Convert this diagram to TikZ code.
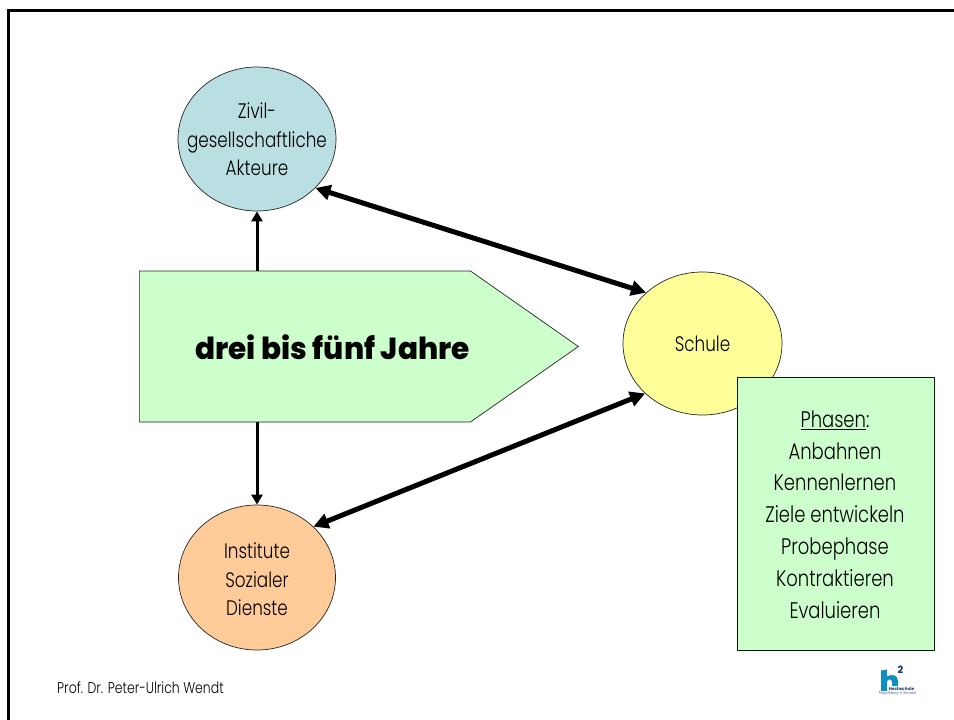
\documentclass[tikz,border=0pt]{standalone}
\usepackage{fontspec}
\setmainfont[FakeStretch=0.8]{Poppins Light}
\newfontfamily\boldf[FakeStretch=0.97]{Poppins ExtraBold}
\newfontfamily\smallbold{Poppins}
\newfontfamily\footf{Lato}
\usetikzlibrary{shapes.geometric,shapes.symbols,arrows.meta}
\tikzset{
 circ/.style={ellipse,draw=black!85,line width=0.7pt,inner sep=0pt,inner xsep=-30pt,align=center,font=\fontsize{21}{28.6}\selectfont,text=black},
 lab/.style={inner sep=0pt,align=center,font=\fontsize{21}{28.6}\selectfont},
 conn/.style={draw=black,line width=3pt,-{Triangle[length=10pt,width=11pt]}},
 thick2/.style={draw=black,line width=5pt,{Triangle[length=15pt,width=15pt]}-{Triangle[length=15pt,width=15pt]}},
}
\definecolor{cblue}{HTML}{B9DFE3}
\definecolor{cyel}{HTML}{FFFF99}
\definecolor{corg}{HTML}{FFCC99}
\definecolor{cgreen}{HTML}{CCFFCC}
\definecolor{hblue}{HTML}{0E8FC0}
\definecolor{hnavy}{HTML}{15305F}
\begin{document}
\begin{tikzpicture}[x=1pt,y=-1pt]
\useasboundingbox (0,0) rectangle (954,720);
\fill[white] (0,0) rectangle (954,720);
\draw[line width=2.4pt,black] (8.5,720) -- (8.5,10.5) -- (954,10.5);
\node[circ,fill=cblue,minimum width=158pt,minimum height=144pt] (zivil) at (257,139) {};
\node[lab] (zivtxt) at (257,139.5) {Zivil-\\gesellschaftliche\\Akteure};
\node[circ,fill=cyel,minimum width=159pt,minimum height=143pt] (schule) at (702.5,343.5) {Schule};
\node[circ,fill=corg,minimum width=157pt,minimum height=145pt] (inst) at (257,577.5) {};
\node[lab] (insttxt) at (257,579.5) {Institute\\Sozialer\\Dienste};
\node[signal,signal to=east,signal from=nowhere,signal pointer angle=70,draw=black!85,line width=0.7pt,fill=cgreen,
  minimum width=439pt,minimum height=151pt,inner sep=0pt,anchor=west] (pent) at (139,346.5) {};
\node[font=\boldf\fontsize{30.4}{32}\selectfont,anchor=center] (dauer) at (332.5,347) {drei bis fünf Jahre};
\node[draw=black!70!green!40!black,line width=0.8pt,fill=cgreen,minimum width=197pt,minimum height=273pt,inner sep=0pt] (phasen) at (835.5,513.5) {};
\node[inner sep=0pt,align=center,font=\fontsize{22.5}{31.8}\selectfont] (phtxt) at (835,514.5) {\underline{Phasen}:\\Anbahnen\\Kennenlernen\\Ziele entwickeln\\Probephase\\Kontraktieren\\Evaluieren};
\draw[conn] (zivil.south |- pent.north) -- (zivil.south);
\draw[conn] (inst.north |- pent.south) -- (inst.north);
\draw[thick2] (zivil.-40.7) -- (schule.138.7);
\draw[thick2] (inst.42) -- (schule.-139.3);
\node[anchor=west,font=\fontsize{15.6}{17}\selectfont,inner sep=0pt] (autor) at (57,688) {Prof. Dr. Peter-Ulrich Wendt};
% logo
\fill[hblue] (881,670.5) -- (887,669.5) -- (887,676.5) .. controls (892,673.5) and (898,675) .. (898,681) -- (898,686) -- (892,686) -- (892,682) .. controls (892,678) and (887,679) .. (887,682) -- (887,691) -- (881,691) -- cycle;
\node[font=\smallbold\bfseries\fontsize{10}{10}\selectfont,text=hnavy,inner sep=0pt] (zwei) at (900.5,669.5) {2};
\node[font=\smallbold\bfseries\fontsize{4.2}{4.2}\selectfont,text=hnavy,inner sep=0pt] (hs) at (901.5,688.8) {Hochschule};
\node[font=\footf\fontsize{4}{4}\selectfont,text=hnavy!70,inner sep=0pt] (md) at (897.5,693) {Magdeburg • Stendal};
\end{tikzpicture}
\end{document}
